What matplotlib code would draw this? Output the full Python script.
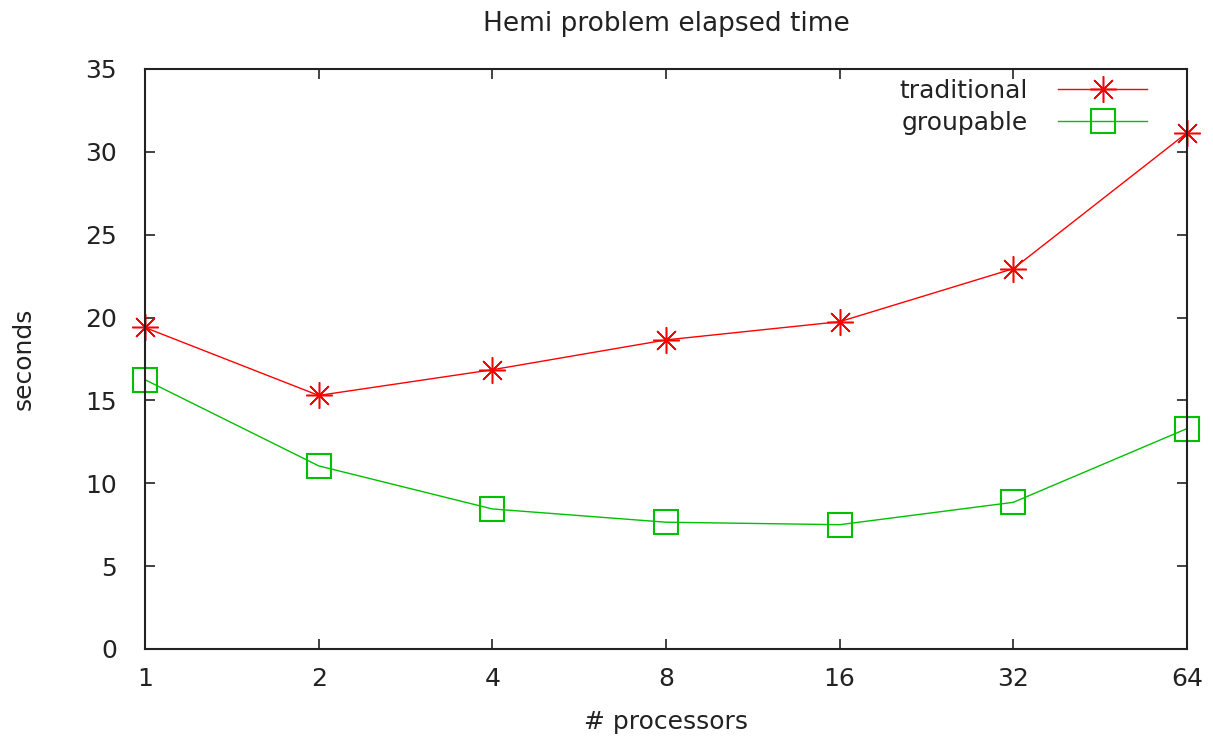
import matplotlib
matplotlib.use("Agg")
import matplotlib.pyplot as plt
from matplotlib.ticker import FixedLocator, FixedFormatter, NullLocator

processors = [1, 2, 4, 8, 16, 32, 64]
proc_labels = ["1", "2", "4", "8", "16", "32", "64"]
traditional = [19.4, 15.3, 16.85, 18.65, 19.75, 22.95, 31.15]
groupable = [16.25, 11.05, 8.45, 7.65, 7.5, 8.85, 13.3]
y_ticks = [0, 5, 10, 15, 20, 25, 30, 35]

plt.rcParams['font.family'] = ['DejaVu Sans']

fig = plt.figure(figsize=(12.13, 7.41), dpi=100)
ax = fig.add_axes([0.1195, 0.1242, 0.8591, 0.7827])

ast = (8, 2, 0)
ax.plot(processors, traditional, color='#ff0000', lw=1.0, marker=ast,
        markersize=19, markeredgewidth=1.1, label='traditional', clip_on=False)
ax.plot(processors, groupable, color='#00c000', lw=1.0, marker='s',
        markersize=17, markerfacecolor='none', markeredgewidth=1.5,
        label='groupable', clip_on=False)

ax.set_xscale('log', base=2)
ax.set_xlim(1, 64)
ax.set_ylim(0, 35)
ax.xaxis.set_major_locator(FixedLocator(processors))
ax.xaxis.set_major_formatter(FixedFormatter(proc_labels))
ax.xaxis.set_minor_locator(NullLocator())
ax.set_yticks(y_ticks)

ax.tick_params(direction='in', length=7, width=1.2, top=True, right=True,
               labelsize=18, colors='#222222')
ax.tick_params(axis='y', pad=20)
ax.tick_params(axis='x', pad=13)
for s in ax.spines.values():
    s.set_linewidth(1.5)
    s.set_color('#222222')

ax.set_title('Hemi problem elapsed time', fontsize=19, pad=27, color='#222222')
ax.set_xlabel('# processors', fontsize=18, labelpad=14, color='#222222')
ax.set_ylabel('seconds', fontsize=18, labelpad=36, color='#222222')

leg = ax.legend(loc='upper right', frameon=False, markerfirst=False,
                fontsize=18, handlelength=3.56, handletextpad=1.2,
                borderaxespad=0, borderpad=0, labelspacing=0.32,
                bbox_to_anchor=(0.9616, 0.983))
for t in leg.get_texts():
    t.set_color('#222222')

fig.savefig('out.png', dpi=100)
